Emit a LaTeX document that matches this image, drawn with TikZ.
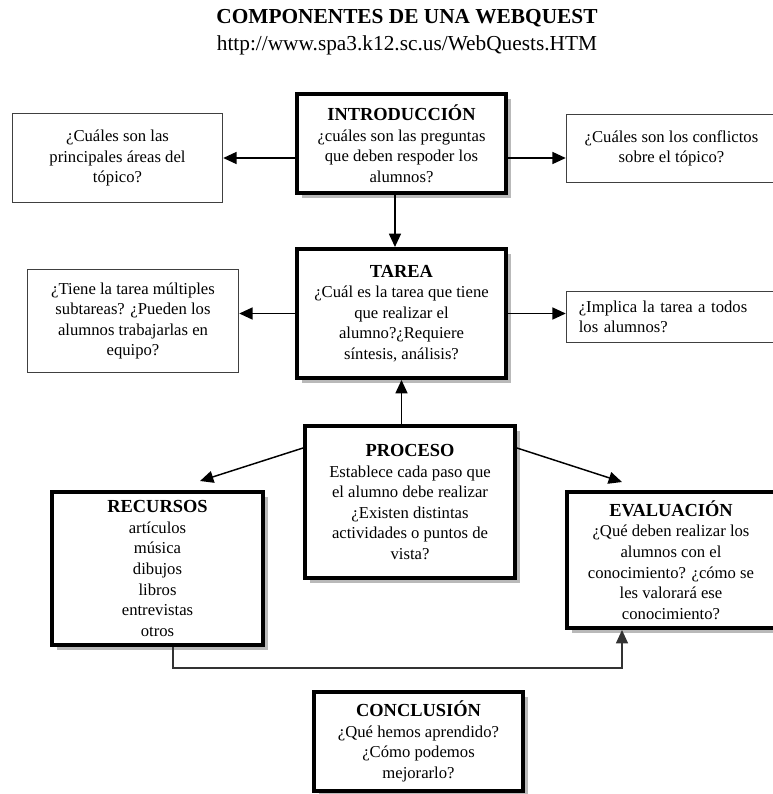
\documentclass[tikz,border=0pt]{standalone}
\usepackage{fontspec}
\setmainfont{Liberation Serif}
\usetikzlibrary{arrows.meta}
\usetikzlibrary{shadows}

\newcommand{\cabeza}[1]{{\bfseries\fontsize{13.8}{15.4}\selectfont #1}}

\begin{document}
\begin{tikzpicture}[x=0.75pt,y=-0.75pt]

\tikzset{
    caja/.style = {
    align=center,
    inner sep=0pt,
    font=\fontsize{12.5}{15.4}\selectfont
    }
}

\tikzstyle{fuerte}=[draw, line width=3pt, fill=white, caja, drop shadow={shadow xshift=4pt, shadow yshift=-4pt, fill=black!55, opacity=0.5}]
\tikzstyle{debil}=[draw=black!75, line width=1.1pt, fill=white, caja]
\tikzstyle{flecha}=[line width=1.1pt, -{Triangle[length=10pt,width=9pt]}]

\useasboundingbox (0,0) rectangle (773,794);
\clip (0,0) rectangle (773,794);

\node (titulo) at (407,18) {\fontsize{16}{18}\selectfont\bfseries COMPONENTES DE UNA WEBQUEST};
\node (url) at (407,45) {\fontsize{16}{18}\selectfont http://www.spa3.k12.sc.us/WebQuests.HTM};

\node (intro) [fuerte, minimum width=156.75pt, minimum height=74.25pt] at (401.5,143.5)
    {\cabeza{INTRODUCCIÓN}\\ ¿cuáles son las preguntas\\ que deben respoder los\\ alumnos?};
\node (preg-1) [debil, minimum width=157.5pt, minimum height=66.75pt] at (117.5,158)
    {¿Cuáles son las\\ principales áreas del\\ tópico?};
\node (preg-2) [debil, minimum width=157.5pt, minimum height=51pt] at (671.5,148.5)
    {¿Cuáles son los conflictos\\ sobre el tópico?};

\node (tarea) [fuerte, minimum width=156.75pt, minimum height=96.75pt] at (401.5,313.5)
    {\cabeza{TAREA}\\ ¿Cuál es la tarea que tiene\\ que realizar el\\ alumno?¿Requiere\\ síntesis, análisis?};
\node (preg-3) [debil, minimum width=158.25pt, minimum height=77.25pt] at (133,321)
    {¿Tiene la tarea múltiples\\ subtareas? ¿Pueden los\\ alumnos trabajarlas en\\ equipo?};
\node (preg-4) [debil, minimum width=157.5pt, minimum height=38.25pt, text width=139pt, align=left] at (671.5,317)
    {¿Implica la tarea a todos\\ los alumnos?};

\node (proceso) [fuerte, minimum width=157.5pt, minimum height=114pt] at (410,502)
    {\cabeza{PROCESO}\\ Establece cada paso que\\ el alumno debe realizar\\ ¿Existen distintas\\ actividades o puntos de\\ vista?};
\node (recursos) [fuerte, minimum width=158.25pt, minimum height=114.75pt] at (157.5,568.5)
    {\cabeza{RECURSOS}\\ artículos\\ música\\ dibujos\\ libros\\ entrevistas\\ otros};
\node (evaluacion) [fuerte, minimum width=156pt, minimum height=102pt] at (671,560)
    {\cabeza{EVALUACIÓN}\\ ¿Qué deben realizar los\\ alumnos con el\\ conocimiento? ¿cómo se\\ les valorará ese\\ conocimiento?};

\node (conclusion) [fuerte, minimum width=156.75pt, minimum height=74.25pt] at (418.5,741.5)
    {\cabeza{CONCLUSIÓN}\\ ¿Qué hemos aprendido?\\ ¿Cómo podemos\\ mejorarlo?};

\draw[flecha] (intro.west |- preg-1.east) -- (preg-1.east);
\draw[flecha] (intro.east |- preg-1.east) -- (preg-2.west |- preg-1.east);
\draw[flecha] ([xshift=-4.9pt]intro.south) -- ([xshift=-4.9pt]tarea.north);

\draw[flecha] (tarea.west) -- (tarea.west -| preg-3.east);
\draw[flecha] (tarea.east) -- (tarea.east -| preg-4.west);
\draw[flecha] (proceso.north -| tarea.south) -- (tarea.south);

\draw[flecha] ([yshift=-18pt]proceso.north west) -- ([xshift=31.9pt,yshift=6.75pt]recursos.north);
\draw[flecha] ([yshift=-18pt]proceso.north east) -- ([xshift=-36.75pt,yshift=6pt]evaluacion.north);

% recursos -> evaluacion por abajo
\draw[flecha, line width=0.9pt, draw=black!80] ([xshift=11.6pt]recursos.south) -- ++(0,21) -| ([xshift=-36.75pt]evaluacion.south);

\end{tikzpicture}
\end{document}
